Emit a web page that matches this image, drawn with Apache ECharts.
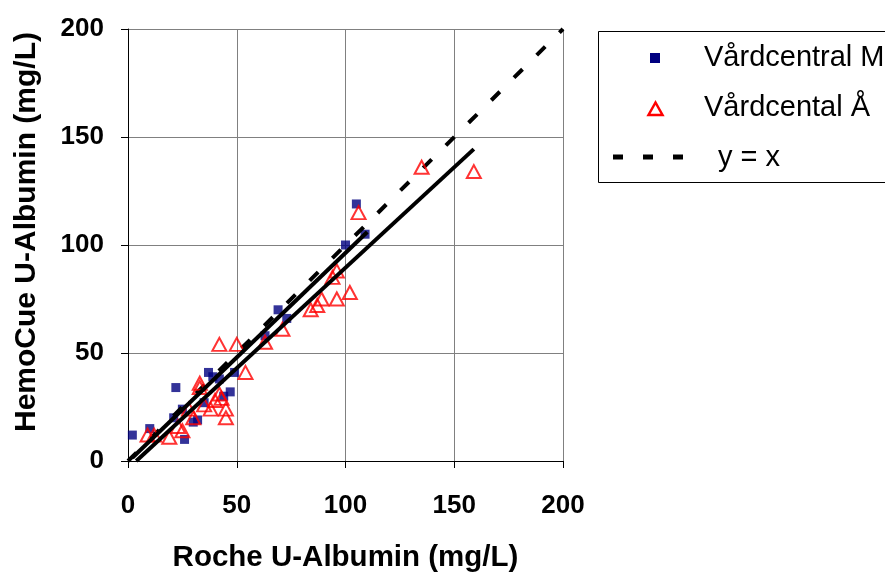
<!DOCTYPE html>
<html><head><meta charset="utf-8">
<script src="https://cdn.jsdelivr.net/npm/echarts@6/dist/echarts.min.js"></script>
<style>html,body{margin:0;padding:0;background:#fff}#c{width:885px;height:572px}</style>
</head><body><div id="c"></div>
<script>
// Data
const seriesNames = ['Vårdcentral M', 'Vårdcental Å', 'y = x'];
const xTicks = [0, 50, 100, 150, 200];
const yTicks = [0, 50, 100, 150, 200];
const mX = [2, 10, 21, 22, 25, 26, 30, 32, 35, 37, 39, 42, 44, 47, 49, 63, 69, 73, 100, 105, 109];
const mY = [12, 15, 20, 34, 24, 10, 18, 19, 27, 41, 39, 38, 30, 32, 41, 58, 70, 66, 100, 119, 105];
const aX = [9, 12, 19, 23, 25, 28, 30, 33, 33, 35, 38, 40, 42, 43, 45, 45, 42, 50, 54, 63, 71, 84, 87, 89, 94, 96, 96, 102, 106, 135, 159];
const aY = [12, 12, 11, 16, 14, 24, 20, 34, 36, 26, 24, 28, 31, 29, 24, 20, 54, 54, 41, 55, 61, 70, 72, 75, 85, 88, 75, 78, 115, 136, 134];
// Trend lines (endpoints)
const mTrendX = [2, 110];
const mTrendY = [1.5, 106];
const aTrendX = [3.8, 159];
const aTrendY = [0, 144.4];
const idX = [0, 200];
const idY = [0, 200];

const zip = (xs, ys) => xs.map((v, i) => [v, ys[i]]);
const FONT = '"Liberation Sans", Arial, sans-serif';

const chart = echarts.init(document.getElementById('c'), null, {renderer: 'canvas'});
chart.setOption({
  animation: false,
  backgroundColor: '#fff',
  grid: {left: 128, right: 322, top: 29, bottom: 111, containLabel: false, outerBoundsMode: 'none'},
  xAxis: {
    type: 'value', min: 0, max: 200, interval: 50,
    name: 'Roche U-Albumin (mg/L)', nameLocation: 'middle', nameGap: 82,
    nameTextStyle: {fontFamily: FONT, fontSize: 29.5, fontWeight: 'bold', color: '#000'},
    axisLine: {show: true, onZero: false, lineStyle: {color: '#000', width: 1}},
    axisTick: {show: true, length: 7, lineStyle: {color: '#000'}},
    axisLabel: {margin: 32, fontFamily: FONT, fontSize: 26, fontWeight: 'bold', color: '#000',
      formatter: v => xTicks.includes(v) ? String(v) : ''},
    splitLine: {show: true, lineStyle: {color: '#808080', width: 1}}
  },
  yAxis: {
    type: 'value', min: 0, max: 200, interval: 50,
    name: 'HemoCue U-Albumin (mg/L)', nameLocation: 'middle', nameGap: 86,
    nameTextStyle: {fontFamily: FONT, fontSize: 30, fontWeight: 'bold', color: '#000', padding: [0, 0, 0, 26]},
    axisLine: {show: true, onZero: false, lineStyle: {color: '#000', width: 1}},
    axisTick: {show: true, length: 7, lineStyle: {color: '#000'}},
    axisLabel: {margin: 24, fontFamily: FONT, fontSize: 26, fontWeight: 'bold', color: '#000',
      formatter: v => yTicks.includes(v) ? String(v) : ''},
    splitLine: {show: true, lineStyle: {color: '#808080', width: 1}}
  },
  series: [
    {name: seriesNames[2], type: 'line', data: zip(idX, idY), symbol: 'none', z: 3,
      lineStyle: {color: '#000', width: 4, type: [12, 20]}},
    {name: seriesNames[0] + ' trend', type: 'line', data: zip(mTrendX, mTrendY), symbol: 'none', z: 4,
      lineStyle: {color: '#000', width: 4}},
    {name: seriesNames[1] + ' trend', type: 'line', data: zip(aTrendX, aTrendY), symbol: 'none', z: 4,
      lineStyle: {color: '#000', width: 4}},
    {name: seriesNames[0], type: 'scatter', data: zip(mX, mY), symbol: 'rect', symbolSize: 9, z: 2,
      itemStyle: {color: '#000080'}},
    {name: seriesNames[1], type: 'scatter', data: zip(aX, aY), symbol: 'triangle', symbolSize: [14, 13], z: 3,
      itemStyle: {color: 'rgba(255,255,255,0)', borderColor: '#ff0000', borderWidth: 2}}
  ],
  graphic: [
    {type: 'rect', shape: {x: 598.5, y: 31.5, width: 300, height: 151}, style: {fill: '#fff', stroke: '#000', lineWidth: 1}, z: 10},
    {type: 'rect', shape: {x: 650, y: 53, width: 10, height: 10}, style: {fill: '#000080'}, z: 11},
    {type: 'polygon', shape: {points: [[655.5, 102.5], [648.5, 115], [662.5, 115]]}, style: {fill: 'none', stroke: '#ff0000', lineWidth: 2.5}, z: 11},
    {type: 'line', shape: {x1: 613, y1: 157, x2: 695, y2: 157}, style: {stroke: '#000', lineWidth: 5, lineDash: [10, 20]}, z: 11},
    {type: 'text', x: 704, y: 58, style: {text: seriesNames[0], font: '29px ' + FONT, fill: '#000', textVerticalAlign: 'middle'}, z: 11},
    {type: 'text', x: 704, y: 108, style: {text: seriesNames[1], font: '29px ' + FONT, fill: '#000', textVerticalAlign: 'middle'}, z: 11},
    {type: 'text', x: 718, y: 158, style: {text: seriesNames[2], font: '29px ' + FONT, fill: '#000', textVerticalAlign: 'middle'}, z: 11}
  ]
});
</script></body></html>
